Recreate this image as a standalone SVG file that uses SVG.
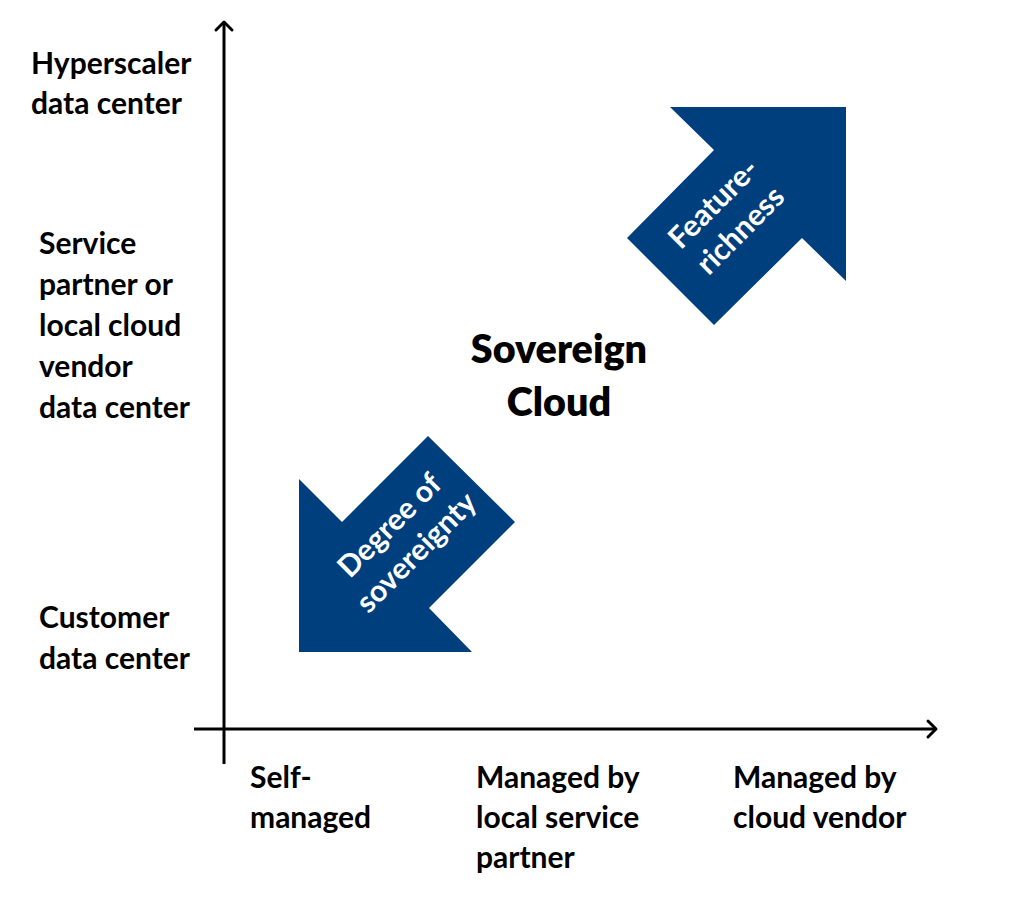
<svg xmlns="http://www.w3.org/2000/svg" width="1024" height="904" viewBox="0 0 1024 904">
<style>
.lbl{font-family:Lato,"Liberation Sans",sans-serif;font-size:30px;font-weight:700;fill:#000}
.ttl{font-family:Lato,"Liberation Sans",sans-serif;font-size:39.5px;font-weight:800;fill:#000;text-anchor:middle}
.arw{fill:#003f7d}
.atx{font-family:Lato,"Liberation Sans",sans-serif;font-size:30px;font-weight:700;fill:#fff;text-anchor:middle}
.axis{stroke:#000;stroke-width:3;fill:none}
.head{stroke:#000;stroke-width:3;fill:none;stroke-linecap:round;stroke-linejoin:round}
</style>
<rect width="1024" height="904" fill="#fff"/>
<g id="axes">
<line class="axis" x1="224" y1="22" x2="224" y2="764"/>
<line class="axis" x1="194" y1="729" x2="936" y2="729"/>
<polyline class="head" points="216,30 224,22 232,30"/>
<polyline class="head" points="928,721 936,729 928,737"/>
</g>
<g id="y-labels">
<text class="lbl" x="31" y="74">Hyperscaler</text>
<text class="lbl" x="31" y="114">data center</text>
<text class="lbl" x="39" y="254">Service</text>
<text class="lbl" x="39" y="295">partner or</text>
<text class="lbl" x="39" y="336">local cloud</text>
<text class="lbl" x="39" y="377">vendor</text>
<text class="lbl" x="39" y="418">data center</text>
<text class="lbl" x="39" y="628">Customer</text>
<text class="lbl" x="39" y="669">data center</text>
</g>
<g id="x-labels">
<text class="lbl" x="250" y="788">Self-</text>
<text class="lbl" x="250" y="828">managed</text>
<text class="lbl" x="476" y="788">Managed by</text>
<text class="lbl" x="476" y="828">local service</text>
<text class="lbl" x="476" y="868">partner</text>
<text class="lbl" x="733" y="788">Managed by</text>
<text class="lbl" x="733" y="828">cloud vendor</text>
</g>
<g id="title">
<text class="ttl" x="559" y="363">Sovereign</text>
<text class="ttl" x="559" y="416">Cloud</text>
</g>
<g id="feature-richness">
<polygon class="arw" points="670,107 846,107 846,281 802,238 714,325 627,238 714,150"/>
<g transform="translate(727,217) rotate(-45)">
<text class="atx" x="0" y="-9">Feature-</text>
<text class="atx" x="0" y="29">richness</text>
</g>
</g>
<g id="degree-of-sovereignty">
<polygon class="arw" points="299,479 342,522 428,436 515,522 429,608 472,652 299,652"/>
<g transform="translate(403,539) rotate(-45)">
<text class="atx" x="0" y="-9">Degree of</text>
<text class="atx" x="0" y="29">sovereignty</text>
</g>
</g>
</svg>
